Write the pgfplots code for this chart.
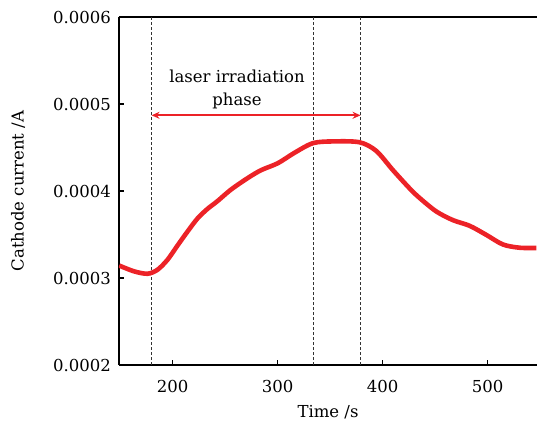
\documentclass[border=0pt]{standalone}
\usepackage{fontspec}
\setmainfont{DejaVu Serif}
\usepackage{pgfplots}
\pgfplotsset{compat=1.18}
\usetikzlibrary{arrows.meta}
\definecolor{curvered}{RGB}{236,34,39}
\newcommand{\bigfont}{\fontsize{16.5}{23}\selectfont}
\begin{document}
\begin{tikzpicture}
\begin{axis}[
  scale only axis,
  width=418pt, height=348pt,
  xmin=149, xmax=547,
  ymin=0.0002, ymax=0.0006,
  axis x line*=box, axis y line*=left,
  axis line style={line width=1.6pt},
  xtick={200,300,400,500},
  ytick={0.0002,0.0003,0.0004,0.0005,0.0006},
  xtick pos=bottom, ytick pos=left,
  tick align=inside,
  major tick length=5pt,
  tick style={line width=1.4pt, black},
  scaled y ticks=false,
  /pgf/number format/assume math mode=true,
  yticklabel style={xshift=-4.5pt, /pgf/number format/fixed, /pgf/number format/fixed zerofill, /pgf/number format/precision=4},
  tick label style={font=\bigfont},
  xticklabel style={anchor=center, yshift=-21pt},
  label style={font=\bigfont},
  xlabel={Time /s},
  ylabel={Cathode current /A},
  xlabel style={at={(axis description cs:0.5,-0.135)}, anchor=center},
  ylabel style={at={(axis description cs:-0.2416,0.5)}, anchor=center},
  clip=true,
]
\addplot[densely dashed, line width=0.8pt, black!80] coordinates {(180,0.0002) (180,0.0006)};
\addplot[densely dashed, line width=0.8pt, black!80] coordinates {(334,0.0002) (334,0.0006)};
\addplot[densely dashed, line width=0.8pt, black!80] coordinates {(379,0.0002) (379,0.0006)};
\addplot[curvered, line width=4.6pt, smooth] coordinates {
(149.2,0.0003143) (163.5,0.0003076) (176.2,0.0003049) (185.7,0.0003095)
(195.2,0.000321) (204.8,0.0003375) (214.3,0.0003535) (223.8,0.0003685)
(233.3,0.0003795) (242.9,0.0003885) (255.5,0.0004015) (271.7,0.000415)
(284.4,0.000424) (300.3,0.000432) (316.2,0.000444) (333.7,0.000455)
(352.7,0.000457) (378.1,0.000456) (394,0.000446) (409.8,0.000424)
(425.7,0.000403) (435.2,0.000392) (451.1,0.0003765) (467.0,0.0003665)
(482.9,0.0003600) (498.8,0.0003495) (514.6,0.0003385) (530.5,0.0003348)
(546.4,0.0003345)
};
\addplot[curvered, line width=1.8pt, {Stealth[length=8pt,width=7pt]}-{Stealth[length=8pt,width=7pt]}] coordinates {(180,0.000487) (379,0.000487)};
\node[align=center, font=\bigfont, inner sep=0pt] at (axis cs:261.4,0.000517) {laser irradiation\\phase};
\end{axis}
\pgfresetboundingbox
\path[use as bounding box] ([xshift=-119pt,yshift=-56pt]current axis.south west) rectangle ([yshift=17pt]current axis.north east);
\end{tikzpicture}
\end{document}
